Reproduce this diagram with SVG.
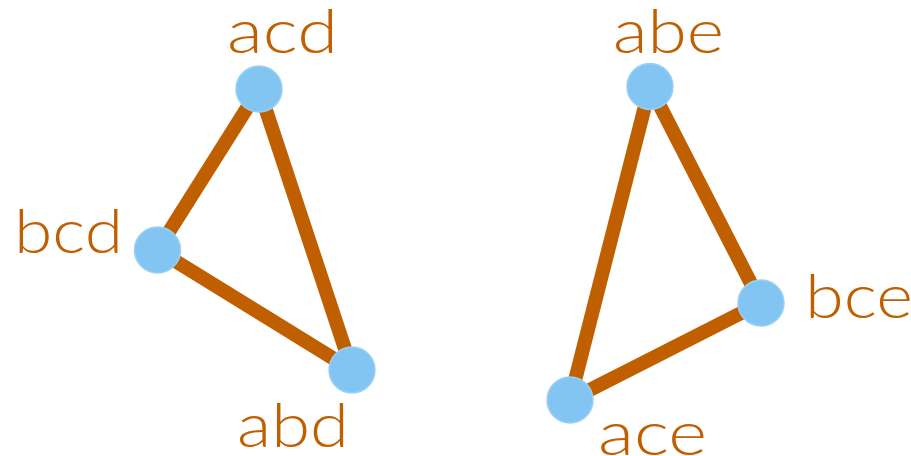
<svg xmlns="http://www.w3.org/2000/svg" width="911" height="456" viewBox="0 0 911 456">
  <style>
    .edge { stroke: #C05F00; stroke-width: 14; stroke-linecap: butt; }
    .node { fill: #82C5F3; stroke: #9BD0F5; stroke-width: 1.5; }
    .label { fill: #C05F00; font-family: "Lato", "DejaVu Sans", sans-serif; font-weight: 300; font-size: 62px; text-anchor: middle; }
  </style>
  <rect width="911" height="456" fill="#ffffff"/>
  <g id="connectors">
    <line class="edge" x1="259" y1="89" x2="157.5" y2="250"/>
    <line class="edge" x1="259" y1="89" x2="352" y2="370"/>
    <line class="edge" x1="157.5" y1="250" x2="352" y2="370"/>
    <line class="edge" x1="650" y1="86.5" x2="570" y2="400"/>
    <line class="edge" x1="650" y1="86.5" x2="761" y2="303"/>
    <line class="edge" x1="570" y1="400" x2="761" y2="303"/>
  </g>
  <g id="node-acd">
    <circle class="node" cx="259" cy="89" r="23"/>
    <text class="label" x="282.5" y="53" textLength="111" lengthAdjust="spacingAndGlyphs">acd</text>
  </g>
  <g id="node-bcd">
    <circle class="node" cx="157.5" cy="250" r="23"/>
    <text class="label" x="68.5" y="253" textLength="109" lengthAdjust="spacingAndGlyphs">bcd</text>
  </g>
  <g id="node-abd">
    <circle class="node" cx="352" cy="370" r="23"/>
    <text class="label" x="293" y="447" textLength="112" lengthAdjust="spacingAndGlyphs">abd</text>
  </g>
  <g id="node-abe">
    <circle class="node" cx="650" cy="86.5" r="23"/>
    <text class="label" x="668.5" y="53" textLength="111" lengthAdjust="spacingAndGlyphs">abe</text>
  </g>
  <g id="node-bce">
    <circle class="node" cx="761" cy="303" r="23"/>
    <text class="label" x="859" y="318" textLength="108" lengthAdjust="spacingAndGlyphs">bce</text>
  </g>
  <g id="node-ace">
    <circle class="node" cx="570" cy="400" r="23"/>
    <text class="label" x="652.5" y="455" textLength="109" lengthAdjust="spacingAndGlyphs">ace</text>
  </g>
</svg>
